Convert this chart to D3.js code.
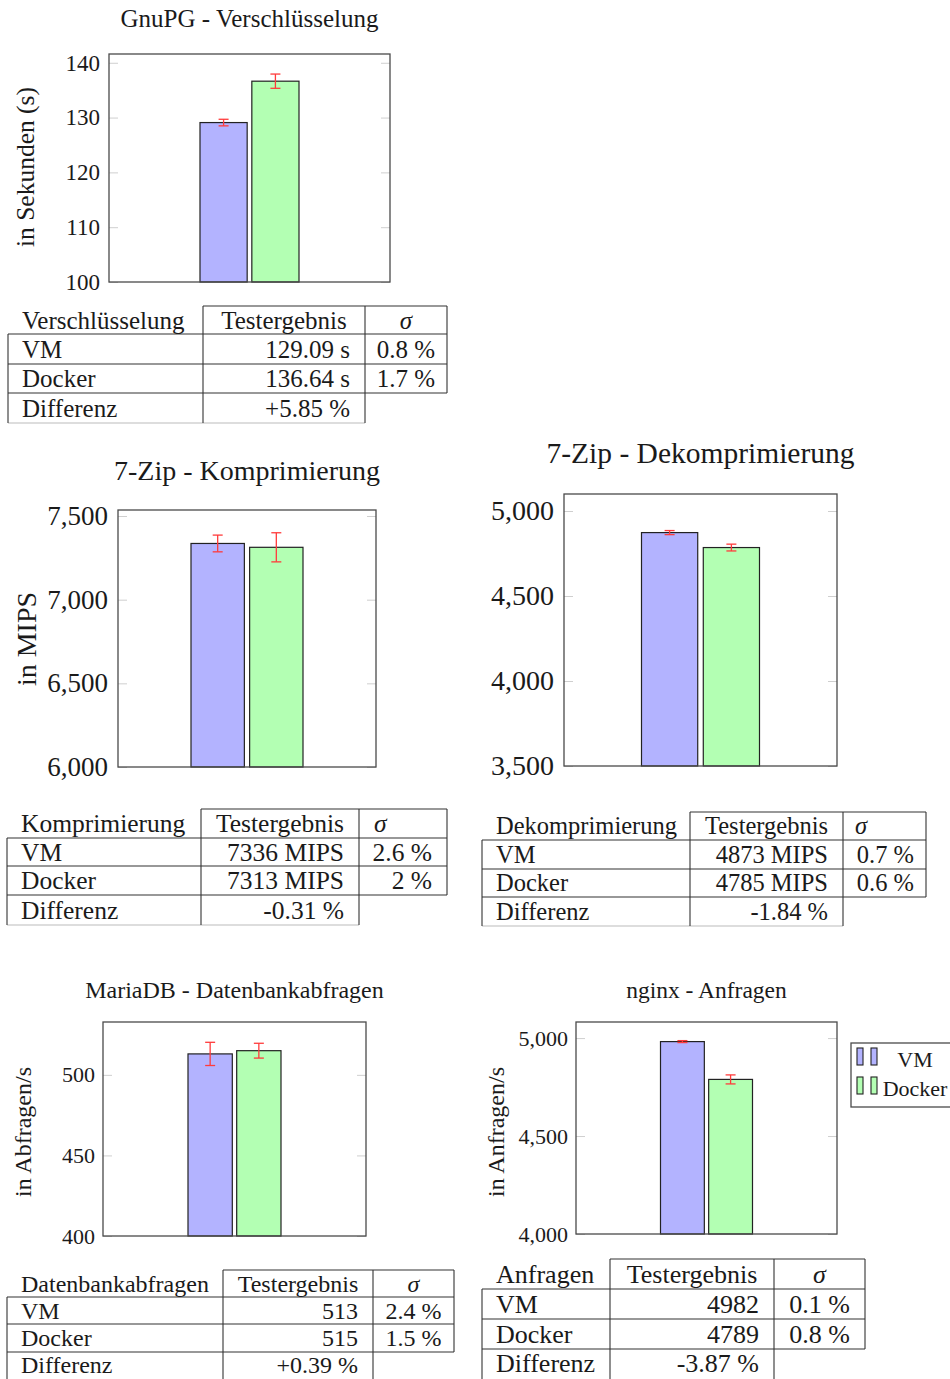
<!DOCTYPE html>
<html>
<head>
<meta charset="utf-8">
<script src="https://cdn.jsdelivr.net/npm/d3@7"></script>
<style>
  body { margin: 0; background: #fff; }
  svg { display: block; font-family: "Liberation Serif", "Times New Roman", serif; }
</style>
</head>
<body>
<svg id="chart" width="950" height="1379"></svg>
<script>
// benchmark results VM vs Docker, one bar chart + one table per test
var series = ['VM', 'Docker']
var rowLabels = ['VM', 'Docker', 'Differenz']

var gnupgValues = [129.09, 136.64]
var gnupgErrors = [0.6, 1.3]
var gnupgSigma = ['0.8 %', '1.7 %']
var gnupgDiff = '+5.85 %'
var gnupgTicks = [100, 110, 120, 130, 140]
var gnupgRange = [100, 141.6]

var zipCompValues = [7336, 7313]
var zipCompErrors = [50, 87]
var zipCompSigma = ['2.6 %', '2 %']
var zipCompDiff = '-0.31 %'
var zipCompTicks = [6000, 6500, 7000, 7500]
var zipCompRange = [6000, 7536]

var zipDecompValues = [4873, 4785]
var zipDecompErrors = [12, 20]
var zipDecompSigma = ['0.7 %', '0.6 %']
var zipDecompDiff = '-1.84 %'
var zipDecompTicks = [3500, 4000, 4500, 5000]
var zipDecompRange = [3500, 5100]

var mariaValues = [513, 515]
var mariaErrors = [7.2, 4.6]
var mariaSigma = ['2.4 %', '1.5 %']
var mariaDiff = '+0.39 %'
var mariaTicks = [400, 450, 500]
var mariaRange = [400, 532.8]

var nginxValues = [4982, 4789]
var nginxErrors = [5, 23]
var nginxSigma = ['0.1 %', '0.8 %']
var nginxDiff = '-3.87 %'
var nginxTicks = [4000, 4500, 5000]
var nginxRange = [4000, 5082]

var fills = ['#b3b3ff', '#b3ffb3']
var textColor = '#1a1a1a'

var svg = d3.select('#chart')

function drawPanel (p) {
  var y = d3.scaleLinear().domain(p.range).range([p.box[3], p.box[1]])
  var cx = (p.box[0] + p.box[2]) / 2
  var x = d3.scaleBand()
    .domain(series)
    .range([cx - p.barSpan / 2, cx + p.barSpan / 2])
    .paddingInner(0.09)
  var g = svg.append('g')

  g.append('text')
    .attr('x', cx)
    .attr('y', p.titleY)
    .attr('text-anchor', 'middle')
    .attr('fill', textColor)
    .style('font-size', p.titleSize + 'px')
    .text(p.title)

  if (p.yLabel) {
    g.append('text')
      .attr('transform', 'translate(' + p.yLabelPos[0] + ',' + p.yLabelPos[1] + ') rotate(-90)')
      .attr('text-anchor', 'middle')
      .attr('fill', textColor)
      .style('font-size', p.yLabelSize + 'px')
      .text(p.yLabel)
  }

  // inner grey ticks, left side carries the labels
  var left = g.append('g')
    .attr('transform', 'translate(' + p.box[0] + ',0)')
    .call(d3.axisLeft(y).tickValues(p.ticks).tickFormat(d3.format(','))
      .tickSizeInner(-9).tickSizeOuter(0).tickPadding(p.tickGap))
  left.attr('font-family', null).attr('font-size', null)
  left.select('.domain').remove()
  left.selectAll('line').attr('stroke', '#cfcfcf')
  left.selectAll('text').attr('fill', textColor).style('font-size', p.tickSize + 'px')

  var right = g.append('g')
    .attr('transform', 'translate(' + p.box[2] + ',0)')
    .call(d3.axisRight(y).tickValues(p.ticks).tickFormat('')
      .tickSizeInner(-9).tickSizeOuter(0))
  right.select('.domain').remove()
  right.selectAll('line').attr('stroke', '#cfcfcf')

  g.selectAll('rect.bar')
    .data(p.values)
    .enter()
    .append('rect')
    .attr('class', 'bar')
    .attr('x', function (d, i) { return x(series[i]) })
    .attr('y', function (d) { return y(d) })
    .attr('width', x.bandwidth())
    .attr('height', function (d) { return y(p.range[0]) - y(d) })
    .attr('fill', function (d, i) { return fills[i] })
    .attr('stroke', '#222')
    .attr('stroke-width', 1.2)

  // error bars
  var err = g.selectAll('g.err')
    .data(p.values)
    .enter()
    .append('g')
    .attr('class', 'err')
    .attr('stroke', '#ff3b3b')
    .attr('stroke-width', 1.3)
  err.append('line')
    .attr('x1', function (d, i) { return x(series[i]) + x.bandwidth() / 2 })
    .attr('x2', function (d, i) { return x(series[i]) + x.bandwidth() / 2 })
    .attr('y1', function (d, i) { return y(d - p.errors[i]) })
    .attr('y2', function (d, i) { return y(d + p.errors[i]) })
  ;[-1, 1].forEach(function (s) {
    err.append('line')
      .attr('x1', function (d, i) { return x(series[i]) + x.bandwidth() / 2 - 5 })
      .attr('x2', function (d, i) { return x(series[i]) + x.bandwidth() / 2 + 5 })
      .attr('y1', function (d, i) { return y(d + s * p.errors[i]) })
      .attr('y2', function (d, i) { return y(d + s * p.errors[i]) })
  })

  g.append('rect')
    .attr('x', p.box[0])
    .attr('y', p.box[1])
    .attr('width', p.box[2] - p.box[0])
    .attr('height', p.box[3] - p.box[1])
    .attr('fill', 'none')
    .attr('stroke', '#4a4a4a')
    .attr('stroke-width', 1.3)

  drawTable(p)
}

function drawTable (p) {
  var t = p.table
  var c = t.cols
  var r = t.rows
  var g = svg.append('g').attr('stroke', '#333').attr('stroke-width', 1.1)
  var seg = function (x1, y1, x2, y2, col) {
    g.append('line').attr('x1', x1).attr('y1', y1).attr('x2', x2).attr('y2', y2)
      .attr('stroke', col || null)
  }
  // bottom edge of the last row runs past the page for the lowest tables
  var bottom = t.open ? 1385 : r[4]
  seg(c[1], r[0], c[3], r[0])
  seg(c[0], r[1], c[3], r[1])
  seg(c[0], r[2], c[3], r[2])
  seg(c[0], r[3], c[3], r[3])
  if (!t.open) seg(c[0], r[4], c[2], r[4], '#bbb')
  seg(c[0], r[1], c[0], bottom)
  seg(c[1], r[0], c[1], bottom)
  seg(c[2], r[0], c[2], bottom)
  seg(c[3], r[0], c[3], r[3])

  var results = p.values.map(function (v) { return v + p.unit })
  var rowsData = [
    [t.header, 'Testergebnis', 'σ'],
    [rowLabels[0], results[0], p.sigma[0]],
    [rowLabels[1], results[1], p.sigma[1]],
    [rowLabels[2], p.diff, '']
  ]
  var tg = svg.append('g').attr('fill', textColor).style('font-size', t.size + 'px')
  rowsData.forEach(function (row, i) {
    var cy = (r[i] + r[i + 1]) / 2
    tg.append('text').attr('x', c[0] + 14).attr('y', cy).attr('dy', '0.34em').text(row[0])
    if (i === 0) {
      tg.append('text').attr('x', (c[1] + c[2]) / 2).attr('y', cy).attr('dy', '0.34em')
        .attr('text-anchor', 'middle').text(row[1])
    } else {
      tg.append('text').attr('x', c[2] - 15).attr('y', cy).attr('dy', '0.34em')
        .attr('text-anchor', 'end').text(row[1])
    }
    if (row[2] === '') return
    var s = tg.append('text').attr('y', cy).attr('dy', '0.34em').text(row[2])
    if (i === 0) s.style('font-style', 'italic')
    if (t.sigmaAlign === 'center') {
      s.attr('x', (c[2] + c[3]) / 2).attr('text-anchor', 'middle')
    } else if (i === 0) {
      s.attr('x', c[2] + t.sigmaPad)
    } else {
      s.attr('x', c[3] - t.sigmaPad).attr('text-anchor', 'end')
    }
  })
}

drawPanel({
  title: 'GnuPG - Verschlüsselung', titleY: 27, titleSize: 25,
  yLabel: 'in Sekunden (s)', yLabelPos: [34, 167], yLabelSize: 25.5,
  box: [109, 54, 390, 282], barSpan: 99, tickGap: 9, tickSize: 23,
  values: gnupgValues, errors: gnupgErrors, ticks: gnupgTicks, range: gnupgRange,
  unit: ' s', sigma: gnupgSigma, diff: gnupgDiff,
  table: { header: 'Verschlüsselung', size: 25, cols: [8, 203, 365, 447],
    rows: [306, 334, 364, 393, 423], sigmaAlign: 'center' }
})

drawPanel({
  title: '7-Zip - Komprimierung', titleY: 480, titleSize: 28,
  yLabel: 'in MIPS', yLabelPos: [36, 639], yLabelSize: 28,
  box: [118, 510, 376, 767], barSpan: 112, tickGap: 10, tickSize: 27,
  values: zipCompValues, errors: zipCompErrors, ticks: zipCompTicks, range: zipCompRange,
  unit: ' MIPS', sigma: zipCompSigma, diff: zipCompDiff,
  table: { header: 'Komprimierung', size: 25.5, cols: [7, 201, 359, 447],
    rows: [809, 838, 866, 895, 925], sigmaAlign: 'right', sigmaPad: 15 }
})

drawPanel({
  title: '7-Zip - Dekomprimierung', titleY: 463, titleSize: 29.5,
  box: [564, 494, 837, 766], barSpan: 118, tickGap: 10, tickSize: 28,
  values: zipDecompValues, errors: zipDecompErrors, ticks: zipDecompTicks, range: zipDecompRange,
  unit: ' MIPS', sigma: zipDecompSigma, diff: zipDecompDiff,
  table: { header: 'Dekomprimierung', size: 24.5, cols: [482, 690, 843, 926],
    rows: [812, 840, 869, 897, 926], sigmaAlign: 'right', sigmaPad: 12 }
})

drawPanel({
  title: 'MariaDB - Datenbankabfragen', titleY: 998, titleSize: 24,
  yLabel: 'in Abfragen/s', yLabelPos: [31, 1132], yLabelSize: 24,
  box: [103, 1022, 366, 1236], barSpan: 93, tickGap: 8, tickSize: 22,
  values: mariaValues, errors: mariaErrors, ticks: mariaTicks, range: mariaRange,
  unit: '', sigma: mariaSigma, diff: mariaDiff,
  table: { header: 'Datenbankabfragen', size: 24, cols: [7, 223, 373, 454],
    rows: [1270, 1297, 1324, 1352, 1377], sigmaAlign: 'center', open: true }
})

drawPanel({
  title: 'nginx - Anfragen', titleY: 998, titleSize: 23.5,
  yLabel: 'in Anfragen/s', yLabelPos: [504, 1132], yLabelSize: 24,
  box: [576, 1022, 837, 1234], barSpan: 92, tickGap: 8, tickSize: 22,
  values: nginxValues, errors: nginxErrors, ticks: nginxTicks, range: nginxRange,
  unit: '', sigma: nginxSigma, diff: nginxDiff,
  table: { header: 'Anfragen', size: 26, cols: [482, 610, 774, 865],
    rows: [1259, 1289, 1319, 1349, 1377], sigmaAlign: 'center', open: true }
})

// legend next to the nginx chart
var legend = svg.append('g')
legend.append('rect')
  .attr('x', 851).attr('y', 1043).attr('width', 110).attr('height', 64)
  .attr('fill', '#fff').attr('stroke', '#4a4a4a').attr('stroke-width', 1.3)
series.forEach(function (s, i) {
  var ly = 1048 + i * 29
  ;[857, 871].forEach(function (lx) {
    legend.append('rect').attr('x', lx).attr('y', ly).attr('width', 6).attr('height', 17)
      .attr('fill', fills[i]).attr('stroke', '#222').attr('stroke-width', 1.1)
  })
  legend.append('text').attr('x', 915).attr('y', ly + 19).attr('text-anchor', 'middle')
    .attr('fill', textColor).style('font-size', '22px').text(s)
})
</script>
</body>
</html>
